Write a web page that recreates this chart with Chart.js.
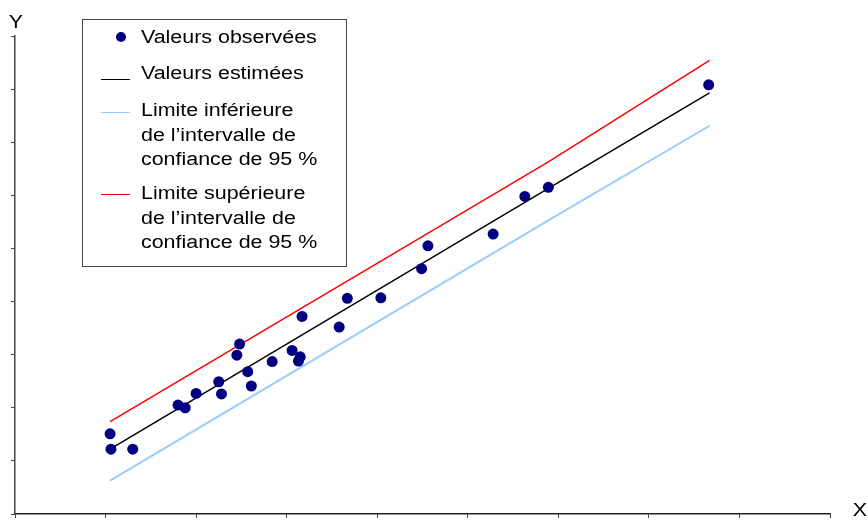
<!DOCTYPE html>
<html>
<head>
<meta charset="utf-8">
<script src="https://cdn.jsdelivr.net/npm/chart.js@4"></script>
<style>
  html, body { margin: 0; padding: 0; background: #fff; }
  #wrap { width: 868px; height: 522px; }
</style>
</head>
<body>
<div id="wrap"><canvas id="chart" width="868" height="522"></canvas></div>
<script>
// Observed values (x, y)
let obsX = [1.05, 1.06, 1.30, 1.80, 1.88, 2.00, 2.25, 2.28, 2.45, 2.48, 2.57, 2.61, 2.84,
            3.06, 3.13, 3.15, 3.17, 3.58, 3.67, 4.04, 4.49, 4.56, 5.28, 5.63, 5.89, 7.66];
let obsY = [1.51, 1.22, 1.22, 2.05, 2.00, 2.27, 2.49, 2.26, 2.99, 3.20, 2.68, 2.41, 2.87,
            3.08, 2.88, 2.96, 3.72, 3.52, 4.06, 4.07, 4.62, 5.05, 5.27, 5.98, 6.15, 8.08];

// Fitted line and 95% confidence limits
let lineX = [1.05, 5.89, 7.67];
let fitY = [1.22, 6.13, 7.93];
let lowY = [0.63, 5.53, 7.31];
let highY = [1.74, 6.63, 8.54];

let axisTicks = [0, 1, 2, 3, 4, 5, 6, 7, 8, 9];

function toPoints(xs, ys) {
    return xs.map((x, i) => ({ x: x, y: ys[i] }));
}

let legendLabels = [
    ["Valeurs observées"],
    ["Valeurs estimées"],
    ["Limite inférieure", "de l\u2019intervalle de", "confiance de 95 %"],
    ["Limite supérieure", "de l\u2019intervalle de", "confiance de 95 %"]
];

// text in the original is a bit wider than plain Arial
function wideText(ctx, t, x, y, align) {
    ctx.save();
    ctx.translate(x, y);
    ctx.scale(1.19, 1);
    ctx.textAlign = align;
    ctx.fillText(t, 0, 0);
    ctx.restore();
}

// Legend box and axis letters drawn on canvas
let boxLegend = {
    id: "boxLegend",
    afterDraw(chart) {
        let ctx = chart.ctx;
        ctx.save();
        ctx.font = "18px 'Liberation Sans', Arial, sans-serif";
        ctx.fillStyle = "#000";
        ctx.textBaseline = "middle";
        // axis letters
        wideText(ctx, "Y", 16, 23, "center");
        wideText(ctx, "X", 860, 511, "center");
        // box
        ctx.strokeStyle = "#444";
        ctx.lineWidth = 1;
        ctx.strokeRect(82.5, 19.5, 264, 247);
        let rows = [37, 73, 110, 193];
        let marks = [0, 79, 112, 194];
        chart.data.datasets.forEach((ds, i) => {
            let y = rows[i];
            if (ds.showLine === false) {
                ctx.beginPath();
                ctx.fillStyle = ds.backgroundColor;
                ctx.arc(121, y, 5, 0, Math.PI * 2);
                ctx.fill();
            } else {
                ctx.beginPath();
                ctx.strokeStyle = ds.borderColor;
                ctx.lineWidth = 1;
                ctx.moveTo(101, marks[i] + 0.5);
                ctx.lineTo(130, marks[i] + 0.5);
                ctx.stroke();
            }
            ctx.fillStyle = "#000";
            legendLabels[i].forEach((t, j) => {
                wideText(ctx, t, 141, y + 1.5 + j * 24.3, "left");
            });
        });
        ctx.restore();
    }
};

new Chart(document.getElementById("chart"), {
    type: "scatter",
    data: {
        datasets: [
            {
                label: "Valeurs observées",
                data: toPoints(obsX, obsY),
                showLine: false,
                backgroundColor: "#000080",
                borderColor: "#000080",
                pointRadius: 5.5,
                pointBorderWidth: 0
            },
            {
                label: "Valeurs estimées",
                data: toPoints(lineX, fitY),
                showLine: true,
                borderColor: "#000000",
                borderWidth: 1.5,
                pointRadius: 0
            },
            {
                label: "Limite inférieure",
                data: toPoints(lineX, lowY),
                showLine: true,
                borderColor: "#99ccff",
                borderWidth: 2,
                pointRadius: 0
            },
            {
                label: "Limite supérieure",
                data: toPoints(lineX, highY),
                showLine: true,
                borderColor: "#ff0000",
                borderWidth: 1.5,
                pointRadius: 0
            }
        ]
    },
    options: {
        responsive: false,
        animation: false,
        layout: { padding: { left: 0, right: 38, top: 36, bottom: 0 } },
        plugins: {
            legend: { display: false },
            tooltip: { enabled: false }
        },
        scales: {
            x: {
                type: "linear",
                min: axisTicks[0],
                max: axisTicks[axisTicks.length - 1],
                afterBuildTicks(scale) { scale.ticks = axisTicks.map(v => ({ value: v })); },
                afterFit(scale) { scale.height = 8; },
                ticks: { display: false },
                border: { color: "#222", width: 1.5 },
                grid: { drawOnChartArea: false, drawTicks: true, tickLength: 4, color: "#444" }
            },
            y: {
                type: "linear",
                min: axisTicks[0],
                max: axisTicks[axisTicks.length - 1],
                afterBuildTicks(scale) { scale.ticks = axisTicks.map(v => ({ value: v })); },
                afterFit(scale) { scale.width = 15; },
                ticks: { display: false },
                border: { color: "#444", width: 1.5 },
                grid: { drawOnChartArea: false, drawTicks: true, tickLength: 4, color: "#444" }
            }
        }
    },
    plugins: [boxLegend]
});
</script>
</body>
</html>
